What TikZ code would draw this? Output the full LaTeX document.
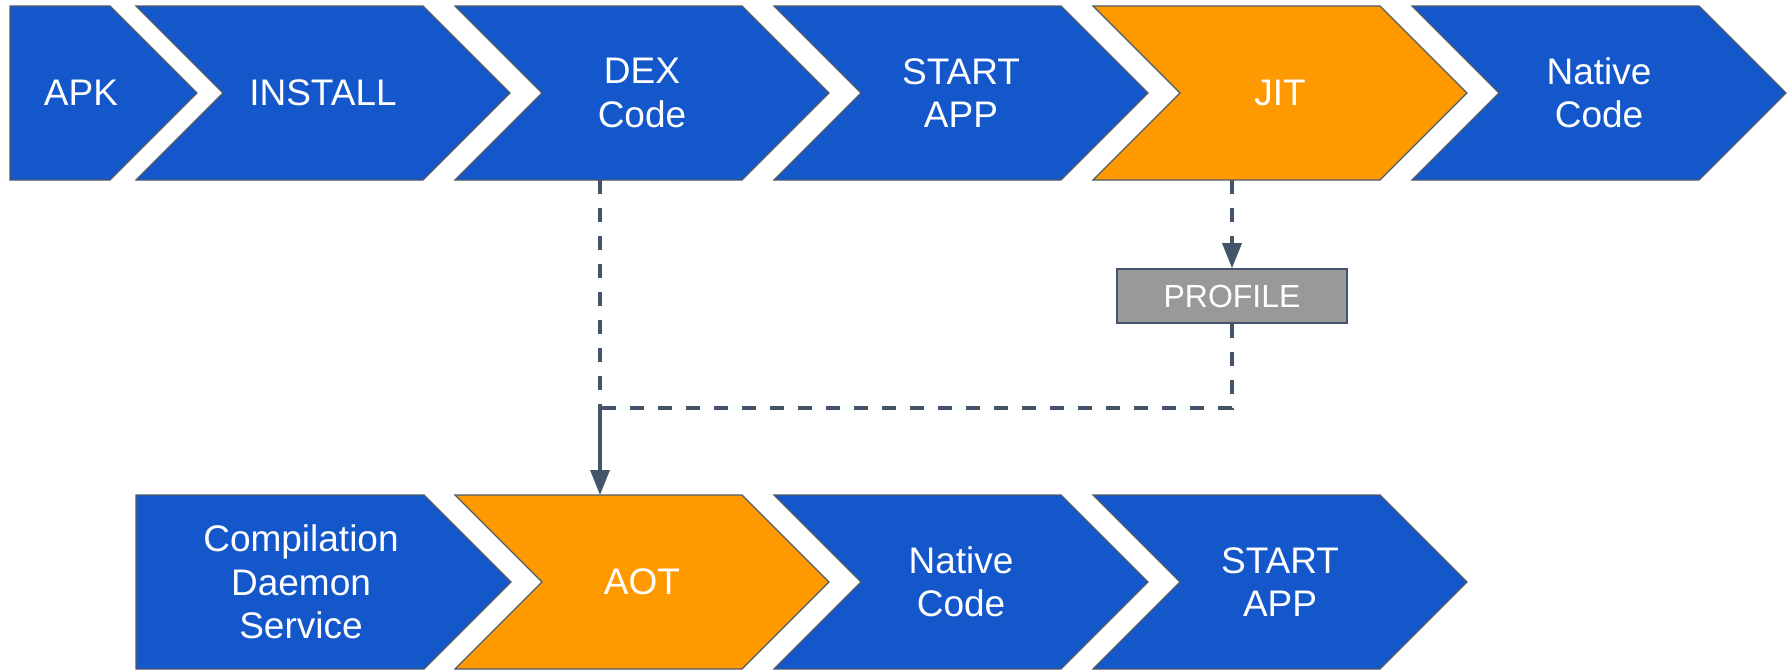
\documentclass[tikz,border=0pt]{standalone}
\usepackage{fontspec}
\setmainfont{Liberation Sans}
\usepackage{tikz}
\usetikzlibrary{arrows.meta}
\tikzset{>={Triangle[width=9.5pt,length=12.5pt]}}
\definecolor{stageblue}{HTML}{1357CB}
\definecolor{stageorange}{HTML}{FF9900}
\definecolor{profgray}{HTML}{999999}
\definecolor{edgegray}{HTML}{4F5A66}
\definecolor{linkgray}{HTML}{44546A}

\begin{document}
\begin{tikzpicture}[x=0.5pt, y=-0.5pt,
  stage/.style={draw=edgegray, line width=0.6pt},
  lbl/.style={text=white, align=center, font=\fontsize{18.5pt}{21.75pt}\selectfont},
  profile/.style={draw=linkgray, line width=0.8pt, fill=profgray, text=white,
    minimum width=115pt, minimum height=27pt, inner sep=0pt,
    font=\fontsize{16pt}{19pt}\selectfont},
  link/.style={draw=linkgray, line width=1.7pt},
  dashlink/.style={link, dash pattern=on 7pt off 7pt}]

  \newcommand\X{319};   % step between columns
  \newcommand\T{6};     % top of upper row
  \newcommand\B{495};   % top of lower row
  % notched chevron: #1 left x, #2 top y, #3 fill
  \newcommand\Chev[3]{\draw[stage, fill=#3] (#1,#2) -- ++(287,0) -- ++(87,87)
    -- ++(-87,87) -- ++(-287,0) -- ++(87,-87) -- cycle;}

  \useasboundingbox (0,0) rectangle (1792,671);

  % upper row
  \draw[stage, fill=stageblue]
  (10,\T) -- ++(100,0) -- ++(87,87) -- ++(-87,87) -- ++(-100,0) -- cycle;
  \Chev{136+0*\X}{\T}{stageblue}
  \Chev{136+1*\X}{\T}{stageblue}
  \Chev{136+2*\X}{\T}{stageblue}
  \Chev{136+3*\X}{\T}{stageorange}
  \Chev{136+4*\X}{\T}{stageblue}

  \node[lbl] (apk) at (81,\T+87) {APK};
  \node[lbl] (install) at (323+0*\X,\T+87) {INSTALL};
  \node[lbl] (dex) at (323+1*\X,\T+87) {DEX\\Code};
  \node[lbl] (start) at (323+2*\X,\T+87) {START\\APP};
  \node[lbl] (jit) at (323+3*\X,\T+87) {JIT};
  \node[lbl] (native) at (323+4*\X,\T+87) {Native\\Code};

  % lower row
  \draw[stage, fill=stageblue]
  (136,\B) -- ++(288,0) -- ++(87,87) -- ++(-87,87) -- ++(-288,0) -- cycle;
  \Chev{136+1*\X}{\B}{stageorange}
  \Chev{136+2*\X}{\B}{stageblue}
  \Chev{136+3*\X}{\B}{stageblue}

  \node[lbl] (daemon) at (301,\B+87) {Compilation\\Daemon\\Service};
  \node[lbl] (aot) at (323+1*\X,\B+87) {AOT};
  \node[lbl] (native2) at (323+2*\X,\B+87) {Native\\Code};
  \node[lbl] (start2) at (323+3*\X,\B+87) {START\\APP};

  % profile feedback
  \node[profile] (prof) at (1232,296) {PROFILE};

  \coordinate (dex-foot) at (600,\T+174);
  \coordinate (jit-foot) at (1232,\T+174);
  \coordinate (merge) at (600,408);
  \coordinate (aot-head) at (600,\B);

  \draw[dashlink, ->] (jit-foot) -- (prof);
  \draw[dashlink] (prof) |- (merge);
  \draw[dashlink] (dex-foot) -- (merge);
  \draw[link, ->] (merge) -- (aot-head);

\end{tikzpicture}
\end{document}
